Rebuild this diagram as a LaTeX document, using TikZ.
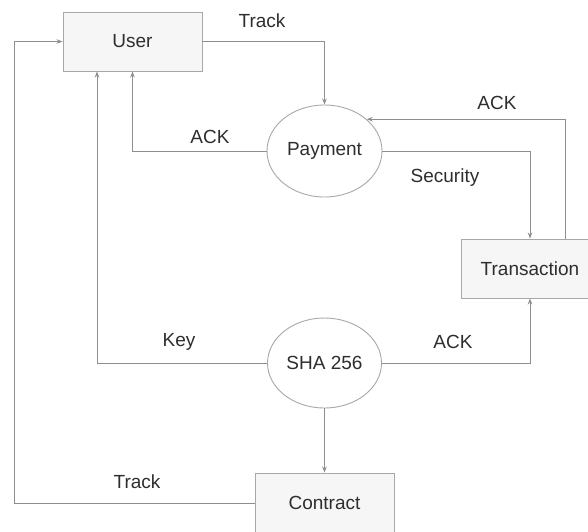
\documentclass[tikz,border=0pt]{standalone}
\usepackage{fontspec}
\setmainfont{Liberation Sans}
\usetikzlibrary{shapes.geometric,arrows.meta,calc}
\definecolor{linegray}{HTML}{8E8E8E}
\definecolor{boxgray}{HTML}{A8A8A8}
\definecolor{boxfill}{HTML}{F6F6F6}
\definecolor{txt}{HTML}{2E2E2E}
\tikzset{
  box/.style={draw=boxgray, fill=boxfill, line width=0.9pt, rectangle, inner sep=0pt, text=txt, font=\fontsize{19}{21}\selectfont},
  ell/.style={draw=boxgray, fill=white, line width=0.9pt, ellipse, inner sep=0pt, text=txt, font=\fontsize{19}{21}\selectfont},
  lbl/.style={text=txt, font=\fontsize{19}{21}\selectfont, inner sep=0pt},
  conn/.style={draw=linegray, line width=1pt},
  arr/.style={conn, -{Stealth[length=6pt,width=4.5pt]}},
}
\begin{document}
\begin{tikzpicture}[x=1pt,y=-1pt]
\clip (0,0) rectangle (588,531);
\fill[white] (0,0) rectangle (588,531);
% nodes
\node[box, minimum width=139pt, minimum height=59pt] (user) at (132.5,41.5) {User};
\node[ell, minimum width=115pt, minimum height=92pt] (pay) at (324.5,151) {Payment};
\node[box, minimum width=138pt, minimum height=59pt] (trans) at (530,268.5) {Transaction};
\node[ell, minimum width=114pt, minimum height=90pt] (sha) at (324.5,363) {SHA 256};
\node[box, minimum width=139pt, minimum height=60pt] (contract) at (324.5,503) {Contract};
\coordinate (lc) at (14,41.5);
% connectors
\draw[arr] (user.east) -| (pay.north);
\draw[arr] (pay.west) -| (user.south);
\draw[arr] (pay.east) -| (trans.north);
\draw[arr] ([xshift=35pt]trans.north) |- (pay.37.6);
\draw[arr] (sha.west) -| ([xshift=-35.5pt]user.south);
\draw[arr] (sha.east) -| (trans.south);
\draw[arr] (sha.south) -- (contract.north);
\draw[arr] (contract.west) -| (lc) -- (user.west);
% labels
\node[lbl] (l1) at (262,21) {Track};
\node[lbl] (l2) at (210,137) {ACK};
\node[lbl] (l3) at (497,103) {ACK};
\node[lbl] (l4) at (445,178) {Security};
\node[lbl] (l5) at (179,342) {Key};
\node[lbl] (l6) at (453,342) {ACK};
\node[lbl] (l7) at (137,482) {Track};
\end{tikzpicture}
\end{document}
